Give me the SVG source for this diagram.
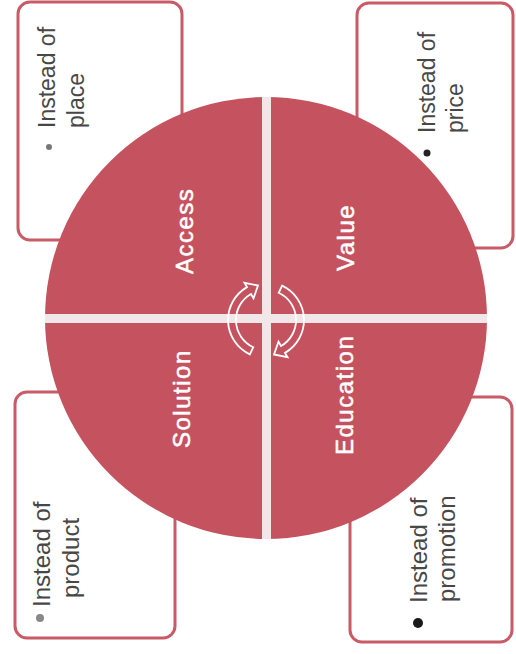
<svg xmlns="http://www.w3.org/2000/svg" width="516" height="654" viewBox="0 0 516 654">
<style>
.box{fill:#fff;stroke:#c95b67;stroke-width:3}
.t{font-family:"Liberation Sans",Arial,sans-serif;fill:#474747}
.lbl{font-family:"Liberation Sans",Arial,sans-serif;fill:#fff;stroke:#fff;stroke-width:0.5;font-size:24px;letter-spacing:1.5px}
.arr{fill:none;stroke:#fff;stroke-width:1.8}
</style>
<rect width="516" height="654" fill="#fff"/>
<g id="box-place">
<rect class="box" x="18" y="2" width="164" height="238" rx="12"/>
<circle cx="49" cy="147" r="3" fill="#777"/>
<text class="t" font-size="23" transform="translate(55,128) rotate(-90)">Instead of</text>
<text class="t" font-size="23" transform="translate(84,128) rotate(-90)">place</text>
</g>
<g id="box-price">
<rect class="box" x="357" y="3" width="156" height="245" rx="12"/>
<circle cx="427" cy="153" r="3.5" fill="#222"/>
<text class="t" font-size="23" transform="translate(435,133) rotate(-90)">Instead of</text>
<text class="t" font-size="23" transform="translate(463,133) rotate(-90)">price</text>
</g>
<g id="box-product">
<rect class="box" x="15" y="392" width="160" height="246" rx="12"/>
<circle cx="40" cy="618" r="4" fill="#888"/>
<text class="t" font-size="24" transform="translate(50,607) rotate(-90)">Instead of</text>
<text class="t" font-size="24" transform="translate(79,598) rotate(-90)">product</text>
</g>
<g id="box-promotion">
<rect class="box" x="350" y="397" width="162" height="245" rx="12"/>
<circle cx="418" cy="623" r="5" fill="#1a1a1a"/>
<text class="t" font-size="24" transform="translate(427,603) rotate(-90)">Instead of</text>
<text class="t" font-size="24" transform="translate(455,602) rotate(-90)">promotion</text>
</g>
<g id="circle">
<circle cx="266" cy="318" r="221" fill="#c5535f"/>
</g>
<g id="connectors">
<rect x="262" y="97" width="9" height="442" fill="#f1e6e8"/>
<rect x="45" y="314" width="442" height="9" fill="#f1e6e8"/>
<path class="arr" d="M249.9,354.4 A38,38 0 0 1 247,287.1 L244.5,282.8 L258,285.5 L253.5,298.4 L251,294 A30,30 0 0 0 253.3,347.2 Z"/>
<path class="arr" transform="rotate(180 266 320)" d="M249.9,354.4 A38,38 0 0 1 247,287.1 L244.5,282.8 L258,285.5 L253.5,298.4 L251,294 A30,30 0 0 0 253.3,347.2 Z"/>
</g>
<g id="access"><text class="lbl" transform="translate(193,274) rotate(-90)">Access</text></g>
<g id="value"><text class="lbl" transform="translate(354,271) rotate(-90)">Value</text></g>
<g id="solution"><text class="lbl" transform="translate(190,448) rotate(-90)">Solution</text></g>
<g id="education"><text class="lbl" transform="translate(353,455) rotate(-90)">Education</text></g>
</svg>
